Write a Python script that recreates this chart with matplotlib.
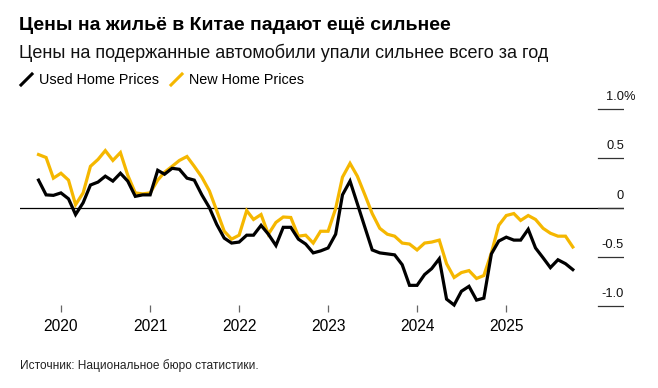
import matplotlib
matplotlib.use("Agg")
import matplotlib.pyplot as plt
from matplotlib.lines import Line2D
import pandas as pd

W, H = 658, 388
plt.rcParams["font.family"] = ["Liberation Sans", "DejaVu Sans"]

dates = pd.date_range("2019-10-01", "2025-10-01", freq="MS")

used_home = [
    0.28, 0.13, 0.125,
    0.15, 0.09, -0.07, 0.05, 0.23, 0.26, 0.32, 0.27, 0.35, 0.27, 0.115, 0.13,
    0.13, 0.38, 0.34, 0.40, 0.39, 0.30, 0.28, 0.13, 0.0, -0.17, -0.31, -0.36,
    -0.35, -0.28, -0.28, -0.18, -0.27, -0.385, -0.20, -0.20, -0.32, -0.37, -0.46, -0.44,
    -0.41, -0.27, 0.13, 0.27, 0.04, -0.20, -0.43, -0.46, -0.47, -0.48, -0.58, -0.79,
    -0.79, -0.68, -0.62, -0.52, -0.93, -0.99, -0.85, -0.80, -0.94, -0.92, -0.47, -0.34,
    -0.30, -0.33, -0.33, -0.22, -0.41, -0.51, -0.61, -0.53, -0.57, -0.63,
]
new_home = [
    0.54, 0.51, 0.30,
    0.35, 0.28, 0.03, 0.15, 0.42, 0.49, 0.58, 0.48, 0.56, 0.33, 0.15, 0.14,
    0.15, 0.28, 0.36, 0.42, 0.48, 0.52, 0.42, 0.31, 0.17, -0.03, -0.24, -0.32,
    -0.28, -0.03, -0.12, -0.07, -0.27, -0.15, -0.095, -0.10, -0.29, -0.28, -0.36, -0.24,
    -0.24, -0.01, 0.31, 0.45, 0.32, 0.13, -0.06, -0.21, -0.27, -0.29, -0.36, -0.37,
    -0.43, -0.36, -0.35, -0.33, -0.57, -0.71, -0.66, -0.64, -0.72, -0.69, -0.46, -0.18,
    -0.08, -0.06, -0.13, -0.08, -0.12, -0.21, -0.26, -0.29, -0.29, -0.40,
]
y_ticks = [1.0, 0.5, 0.0, -0.5, -1.0]
y_labels = ["1.0%", "0.5", "0", "-0.5", "-1.0"]
years = [2020, 2021, 2022, 2023, 2024, 2025]

YELLOW = "#F5B700"

fig = plt.figure(figsize=(W / 100, H / 100), dpi=100)

# axes placed in pixel units
left, right, top, bottom = 20, 624, 100, 312
ax = fig.add_axes([left / W, 1 - bottom / H, (right - left) / W, (bottom - top) / H])

ax.plot(dates, new_home, color=YELLOW, lw=2.3, solid_joinstyle="miter", zorder=3)
ax.plot(dates, used_home, color="black", lw=2.3, solid_joinstyle="miter", zorder=4)

ax.set_xlim(pd.Timestamp("2019-07-17"), pd.Timestamp("2026-04-29"))
ax.set_ylim(-1.061, 1.0946)

for s in ax.spines.values():
    s.set_visible(False)

ax.axhline(0, color="black", lw=0.9, zorder=2)
for v, lab in zip(y_ticks, y_labels):
    ax.axhline(v, xmin=(598 - left) / (right - left), xmax=1, color="#333333", lw=0.9)
    # the % sign hangs past the right edge, numbers line up
    if lab.endswith("%"):
        ax.annotate(lab, xy=(1, v), xycoords=("axes fraction", "data"),
                    xytext=(-13.0, 6.5), textcoords="offset points",
                    ha="left", va="baseline", fontsize=9.3, color="#111111")
    else:
        ax.annotate(lab, xy=(1, v), xycoords=("axes fraction", "data"),
                    xytext=(0, 6.5), textcoords="offset points",
                    ha="right", va="baseline", fontsize=9.3, color="#111111")

ax.set_yticks([])
ax.set_xticks([pd.Timestamp(f"{y}-01-01") for y in years])
ax.set_xticklabels([str(y) for y in years], fontsize=11.2)
ax.tick_params(axis="x", direction="in", length=5, width=0.9, color="#666666", pad=5)

# titles
fig.text(19 / W, 1 - 30 / H, "Цены на жильё в Китае падают ещё сильнее",
         fontsize=14, fontweight="bold", va="baseline", ha="left")
fig.text(19 / W, 1 - 58.5 / H, "Цены на подержанные автомобили упали сильнее всего за год",
         fontsize=13, va="baseline", ha="left", color="#111111")

# legend
for x0, col, lab in [(21, "black", "Used Home Prices"), (171, YELLOW, "New Home Prices")]:
    fig.add_artist(Line2D([x0 / W, (x0 + 11) / W], [1 - 85 / H, 1 - 74 / H],
                          color=col, lw=2.2, transform=fig.transFigure))
    fig.text((x0 + 18) / W, 1 - 84 / H, lab, fontsize=10.4, va="baseline", ha="left")

fig.text(20 / W, 1 - 369 / H, "Источник: Национальное бюро статистики.",
         fontsize=8.6, va="baseline", ha="left", color="#222222")

fig.savefig("out.png", dpi=100)
